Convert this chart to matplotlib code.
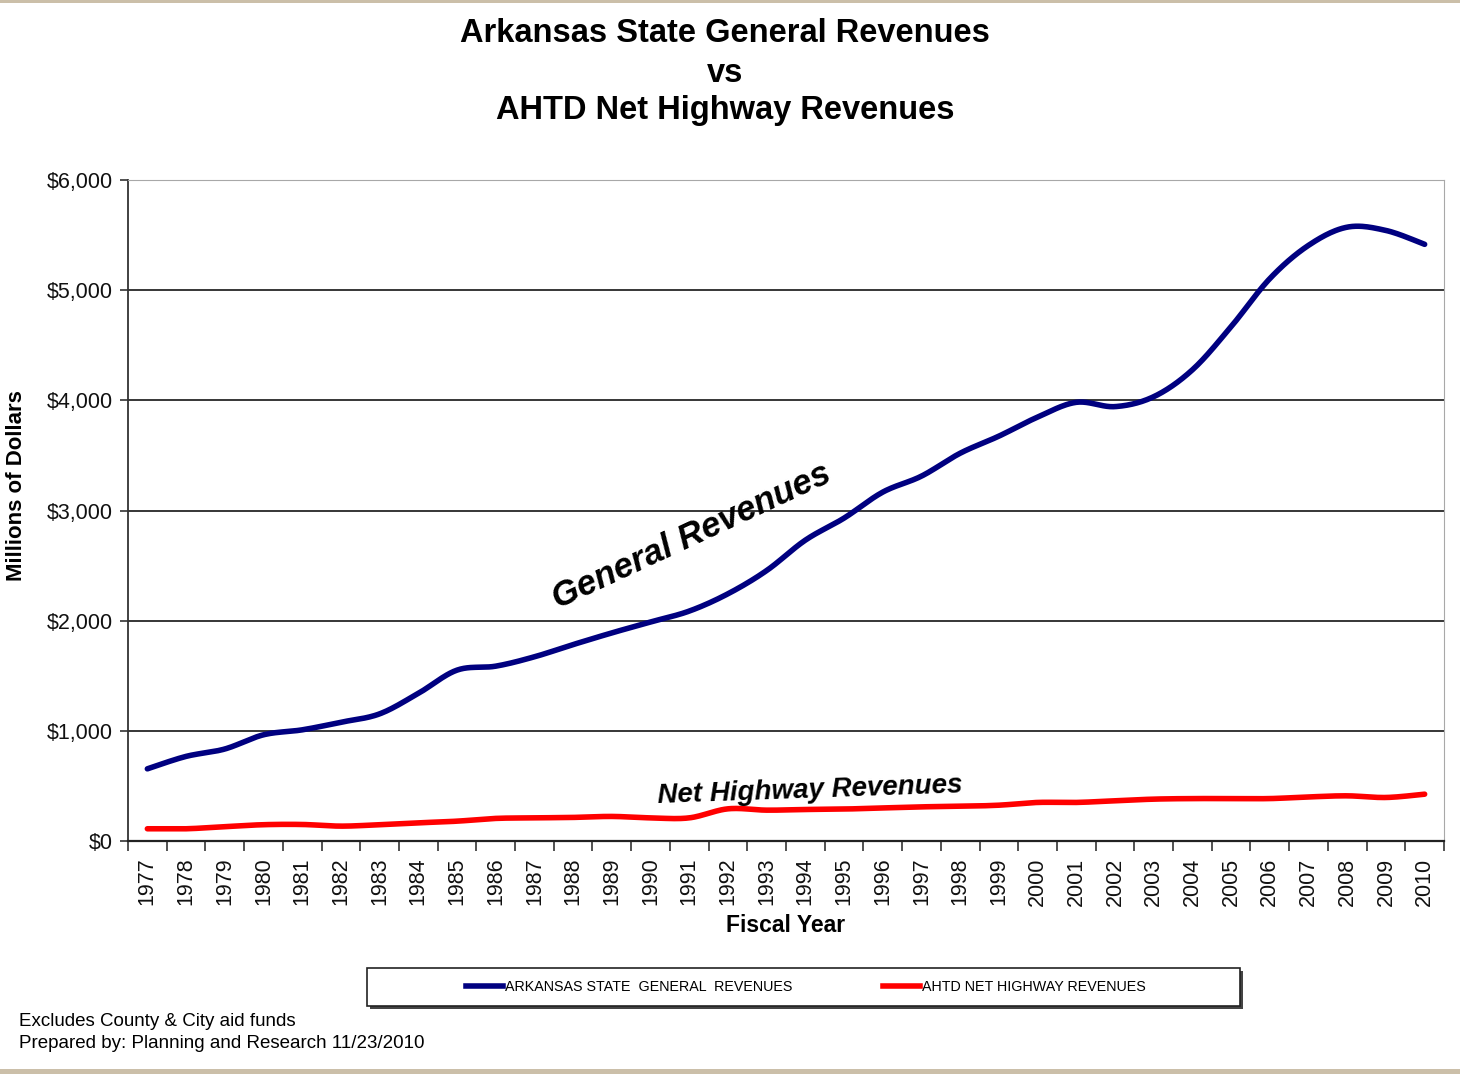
import numpy as np
import matplotlib
matplotlib.use('Agg')
import matplotlib.pyplot as plt
from matplotlib.patches import Rectangle
from matplotlib.lines import Line2D

# fiscal years and revenues (millions of dollars)
years = list(range(1977, 2011))
general_rev = [655, 768, 835, 964, 1009, 1078, 1154, 1340, 1551, 1587,
               1672, 1783, 1889, 1988, 2087, 2244, 2455, 2731, 2931, 3167,
               3312, 3520, 3675, 3848, 3982, 3943, 4033, 4277, 4669, 5105,
               5407, 5572, 5542, 5416]
highway_rev = [111, 111, 130, 148, 150, 135, 148, 165, 180, 205,
               210, 214, 223, 210, 210, 292, 280, 286, 290, 300,
               310, 315, 325, 350, 350, 365, 380, 385, 385, 385,
               400, 410, 395, 425]
y_ticks = [0, 1000, 2000, 3000, 4000, 5000, 6000]
y_labels = ['$0', '$1,000', '$2,000', '$3,000', '$4,000', '$5,000', '$6,000']

plt.rcParams['font.family'] = ['Liberation Sans', 'DejaVu Sans']
narrow = ['Liberation Sans Narrow', 'Liberation Sans']


def smooth(xs, ys, n=24):
    # excel style smoothed line (bezier through the points)
    xs = np.asarray(xs, float)
    ys = np.asarray(ys, float)
    px = np.concatenate([[xs[0]], xs, [xs[-1]]])
    py = np.concatenate([[ys[0]], ys, [ys[-1]]])
    out_x, out_y = [], []
    t = np.linspace(0, 1, n)
    for i in range(1, len(px) - 2):
        p0x, p1x = px[i], px[i + 1]
        p0y, p1y = py[i], py[i + 1]
        c1x = p0x + (px[i + 1] - px[i - 1]) / 6
        c1y = p0y + (py[i + 1] - py[i - 1]) / 6
        c2x = p1x - (px[i + 2] - px[i]) / 6
        c2y = p1y - (py[i + 2] - py[i]) / 6
        bx = (1-t)**3*p0x + 3*(1-t)**2*t*c1x + 3*(1-t)*t**2*c2x + t**3*p1x
        by = (1-t)**3*p0y + 3*(1-t)**2*t*c1y + 3*(1-t)*t**2*c2y + t**3*p1y
        out_x.extend(bx)
        out_y.extend(by)
    return out_x, out_y


fig = plt.figure(figsize=(14.6, 10.74), dpi=100)
ax = fig.add_axes([128/1460, 1-841/1074, (1444-128)/1460, (841-180)/1074])

xpos = np.arange(len(years))
gx, gy = smooth(xpos, general_rev)
hx, hy = smooth(xpos, highway_rev)
ax.plot(gx, gy, color='#000080', lw=4, solid_capstyle='round', zorder=3)
ax.plot(hx, hy, color='#ff0000', lw=4, solid_capstyle='round', zorder=3)

ax.set_xlim(-0.5, len(years) - 0.5)
ax.set_ylim(0, 6000)
ax.set_yticks(y_ticks)
ax.set_yticklabels(y_labels, fontsize=15.5, color='#111111')
ax.yaxis.grid(True, color='black', lw=1.1)
ax.set_axisbelow(True)
ax.tick_params(axis='y', length=6, width=1.2, color='#333333', pad=5)

ax.set_xticks(xpos)
ax.set_xticklabels([str(y) for y in years], rotation=90, fontsize=15.5,
                   color='#111111')
ax.tick_params(axis='x', which='major', length=0, pad=12)
ax.set_xticks(np.arange(-0.5, len(years), 1), minor=True)
ax.tick_params(axis='x', which='minor', length=7, width=1.2, color='#333333')

ax.spines['left'].set_color('#333333')
ax.spines['left'].set_linewidth(1.3)
ax.spines['bottom'].set_color('#222222')
ax.spines['bottom'].set_linewidth(1.6)
ax.spines['top'].set_color('#a8a8a8')
ax.spines['right'].set_color('#a8a8a8')

ax.set_xlabel('Fiscal Year', fontsize=16.5, fontweight='bold', labelpad=6)
fig.text(17/1460, 1-486/1074, 'Millions of Dollars', rotation=90, fontsize=16,
         fontweight='bold', ha='center', va='center')

# titles
title_lines = ['Arkansas State General Revenues', 'vs', 'AHTD Net Highway Revenues']
for line, ypx in zip(title_lines, [34, 73, 110]):
    fig.text(725/1460, 1-ypx/1074, line, fontsize=23.5, fontweight='bold',
             ha='center', va='center')

# labels on the lines
fig.text(692/1460, 1-536/1074, 'General Revenues', fontsize=25, style='italic',
         fontweight='bold', rotation=25, ha='center', va='center')
fig.text(810/1460, 1-791/1074, 'Net Highway Revenues', fontsize=20,
         style='italic', fontweight='bold', rotation=2, ha='center', va='center',
         family=narrow)

# legend box with shadow
fig.patches.append(Rectangle((370/1460, 1-1009/1074), 873/1460, 38/1074,
                             transform=fig.transFigure, facecolor='#444444',
                             edgecolor='none', zorder=1))
fig.patches.append(Rectangle((367/1460, 1-1006/1074), 873/1460, 38/1074,
                             transform=fig.transFigure, facecolor='white',
                             edgecolor='#222222', lw=1.2, zorder=2))
handles = [Line2D([], [], color='#000080', lw=4),
           Line2D([], [], color='#ff0000', lw=4)]
leg = fig.legend(handles, ['ARKANSAS STATE  GENERAL  REVENUES', 'AHTD NET HIGHWAY REVENUES'],
                 loc='center', bbox_to_anchor=(806/1460, 1-987/1074), ncol=2,
                 frameon=False, handlelength=2.6, handletextpad=0.15,
                 columnspacing=6.3, prop={'family': narrow, 'size': 10.3})
leg.set_zorder(3)

# footnotes
fig.text(19/1460, 1-1022/1074, 'Excludes County & City aid funds', fontsize=13.5,
         ha='left', va='center', family=narrow)
fig.text(19/1460, 1-1044/1074, 'Prepared by: Planning and Research 11/23/2010',
         fontsize=13.5, ha='left', va='center', family=narrow)

# thin textured border strips of the slide
fig.patches.append(Rectangle((0, 1-3/1074), 1, 3/1074, transform=fig.transFigure,
                             facecolor='#cbbfa9', edgecolor='none'))
fig.patches.append(Rectangle((0, 0), 1, 5/1074, transform=fig.transFigure,
                             facecolor='#cbbfa9', edgecolor='none'))

fig.savefig('out.png', dpi=100)
